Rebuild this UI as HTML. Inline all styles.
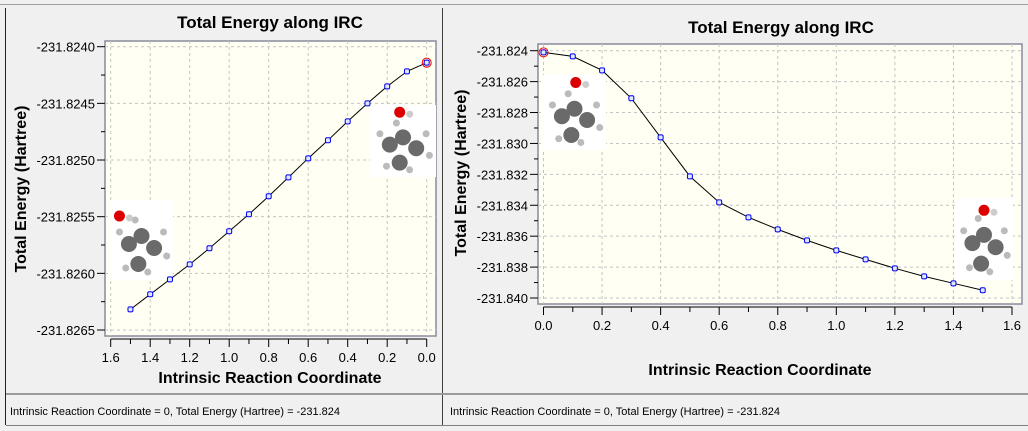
<!DOCTYPE html>
<html><head><meta charset="utf-8"><style>
html,body{margin:0;padding:0;background:#f0f0f0;}
svg{display:block;font-family:"Liberation Sans",Arial,sans-serif;}
</style></head><body>
<svg id="s" width="1028" height="431" xmlns="http://www.w3.org/2000/svg">
<rect x="0" y="0" width="1028" height="431" fill="#f0f0f0"/>
<line x1="0" y1="4.5" x2="1028" y2="4.5" stroke="#a0a0a0"/>
<line x1="5.5" y1="8" x2="5.5" y2="425" stroke="#202020"/>
<line x1="442.5" y1="8" x2="442.5" y2="425" stroke="#404040"/>
<rect x="6" y="393" width="1022" height="2" fill="#9a9a9a"/>
<line x1="6" y1="425.5" x2="1028" y2="425.5" stroke="#808080"/>
<text x="10" y="415" font-size="11" fill="#000">Intrinsic Reaction Coordinate = 0, Total Energy (Hartree) = -231.824</text>
<text x="450" y="415" font-size="11" fill="#000">Intrinsic Reaction Coordinate = 0, Total Energy (Hartree) = -231.824</text>
</svg>
<script>
const leftX=[0.0,0.1,0.2,0.3,0.4,0.5,0.6,0.7,0.8,0.9,1.0,1.1,1.2,1.3,1.4,1.5];
const leftY=[-231.824141,-231.824218,-231.824350,-231.824500,-231.824659,-231.824826,-231.824985,-231.825153,-231.825320,-231.825479,-231.825629,-231.825779,-231.825921,-231.826053,-231.826185,-231.826318];
const leftYTicks=["-231.8240","-231.8245","-231.8250","-231.8255","-231.8260","-231.8265"];
const leftXTicks=["1.6","1.4","1.2","1.0","0.8","0.6","0.4","0.2","0.0"];
const rightX=[0.0,0.1,0.2,0.3,0.4,0.5,0.6,0.7,0.8,0.9,1.0,1.1,1.2,1.3,1.4,1.5];
const rightY=[-231.82411,-231.82437,-231.82527,-231.82708,-231.82961,-231.83213,-231.83381,-231.83478,-231.83556,-231.83627,-231.83692,-231.83750,-231.83808,-231.83860,-231.83905,-231.83950];
const rightYTicks=["-231.824","-231.826","-231.828","-231.830","-231.832","-231.834","-231.836","-231.838","-231.840"];
const rightXTicks=["0.0","0.2","0.4","0.6","0.8","1.0","1.2","1.4","1.6"];

const svg=document.getElementById('s');
const NS="http://www.w3.org/2000/svg";
function el(t,a,p){const e=document.createElementNS(NS,t);for(const k in a)e.setAttribute(k,a[k]);(p||svg).appendChild(e);return e;}

function molecule(g,x,y,w,h,oPos){
  el('rect',{x:x,y:y,width:w,height:h,fill:'#ffffff'},g);
  const atoms=[[0.3,0.55,8,'#6a6a6a'],[0.5,0.45,8,'#6a6a6a'],[0.7,0.6,8,'#6a6a6a'],[0.45,0.8,8,'#6a6a6a'],
    [0.15,0.4,3.5,'#bbb'],[0.25,0.85,3.5,'#bbb'],[0.6,0.9,3.5,'#bbb'],[0.85,0.4,3.5,'#bbb'],[0.9,0.7,3.5,'#bbb'],[0.4,0.25,3.5,'#bbb']];
  atoms.forEach(a=>el('circle',{cx:x+a[0]*w,cy:y+a[1]*h,r:a[2],fill:a[3]},g));
  el('circle',{cx:x+oPos[0]*w,cy:y+oPos[1]*h,r:5.5,fill:'#dd0000'},g);
  el('circle',{cx:x+oPos[0]*w+10,cy:y+oPos[1]*h+2,r:3.5,fill:'#ccc'},g);
}

function chart(o){
  const g=el('g',{});
  
  
  const sx=v=>o.x0+(v-o.xv0)/(o.xv1-o.xv0)*(o.x1-o.x0);
  const sy=v=>o.y0+(v-o.yv0)/(o.yv1-o.yv0)*(o.y1-o.y0);
  const t=el('text',{x:o.titleX,y:o.titleY,'font-size':17,'font-weight':'bold','text-anchor':'middle'},g);t.textContent='Total Energy along IRC';
  
  const bg=el('rect',{x:o.bx0,y:o.by0,width:o.bx1-o.bx0,height:o.by1-o.by0,fill:'#fffff4',stroke:'#8a8a9a','stroke-width':1.5},g);
  
  // y ticks + grid
  const yt=o.yTicks;
  yt.forEach((lab,i)=>{
    const v=parseFloat(lab),y=sy(v);
    el('line',{x1:o.bx0,y1:y,x2:o.bx1,y2:y,stroke:'#c4c4c4','stroke-dasharray':'3,3'},g);
    el('line',{x1:o.bx0-8,y1:y,x2:o.bx0,y2:y,stroke:'#000'},g);
    if(i<yt.length-1){const v2=parseFloat(yt[i+1]);const ym=sy((v+v2)/2);el('line',{x1:o.bx0-4,y1:ym,x2:o.bx0,y2:ym,stroke:'#000'},g);}
    const tx=el('text',{x:o.bx0-10,y:y+5,'font-size':13,'text-anchor':'end'},g);tx.textContent=lab;
    
  });
  // x ticks + grid
  const ax=o.axisY;
  el('line',{x1:sx(o.xv0),y1:ax,x2:sx(o.xv1),y2:ax,stroke:'#000'},g);
  for(let k=0;k<=16;k++){const v=k*0.1,x=sx(v);el('line',{x1:x,y1:ax,x2:x,y2:ax+(k%2==0?8:5),stroke:'#000'},g);}
  o.xTicks.forEach(lab=>{
    const v=parseFloat(lab),x=sx(v);
    el('line',{x1:x,y1:o.by0,x2:x,y2:o.by1,stroke:'#c4c4c4','stroke-dasharray':'3,3'},g);
    const tx=el('text',{x:x,y:ax+23,'font-size':13,'text-anchor':'middle'},g);tx.textContent=lab;
    
  });
  const xt=el('text',{x:o.xtX,y:o.xtY,'font-size':16,'font-weight':'bold','text-anchor':'middle'},g);xt.textContent='Intrinsic Reaction Coordinate';
  
  const ytl=el('text',{x:0,y:0,'font-size':16,'font-weight':'bold','text-anchor':'middle',transform:`translate(${o.ytX},${o.ytY}) rotate(-90)`},g);ytl.textContent='Total Energy (Hartree)';
  
  o.mols.forEach(m=>molecule(g,m[0],m[1],m[2],m[3],m[4]));
  const pts=o.xs.map((v,i)=>sx(v)+','+sy(o.ys[i])).join(' ');
  const pl=el('polyline',{points:pts,fill:'none',stroke:'#000','stroke-width':1},g);
  
  o.xs.forEach((v,i)=>{
    const r=el('rect',{x:sx(v)-2.5,y:sy(o.ys[i])-2.5,width:5,height:5,rx:1.5,fill:'#dfe6ff',stroke:'#0000ee','stroke-width':1},g);
    
  });
  const c=el('circle',{cx:sx(o.xs[0]),cy:sy(o.ys[0]),r:4.5,fill:'none',stroke:'#ee0000','stroke-width':1},g);
  
}

chart({name:'left-chart',xs:leftX,ys:leftY,yTicks:leftYTicks,xTicks:leftXTicks,
  x0:110.7,x1:426.7,xv0:1.6,xv1:0.0,y0:46.7,y1:330,yv0:-231.8240,yv1:-231.8265,
  bx0:105,bx1:436,by0:41,by1:336,axisY:339,titleX:270,titleY:28,xtX:270,xtY:383,ytX:26,ytY:189,
  mols:[[110,200,63,80,[0.15,0.2]],[370,105,66,72,[0.45,0.1]]]});
chart({name:'right-chart',xs:rightX,ys:rightY,yTicks:rightYTicks,xTicks:rightXTicks,
  x0:543.5,x1:1012,xv0:0.0,xv1:1.6,y0:50.7,y1:298,yv0:-231.824,yv1:-231.840,
  bx0:538,bx1:1022,by0:44,by1:304,axisY:307,titleX:781,titleY:33,xtX:760,xtY:375,ytX:466,ytY:173,
  mols:[[543,75,63,75,[0.52,0.1]],[955,198,58,82,[0.5,0.15]]]});
</script>
</body></html>
